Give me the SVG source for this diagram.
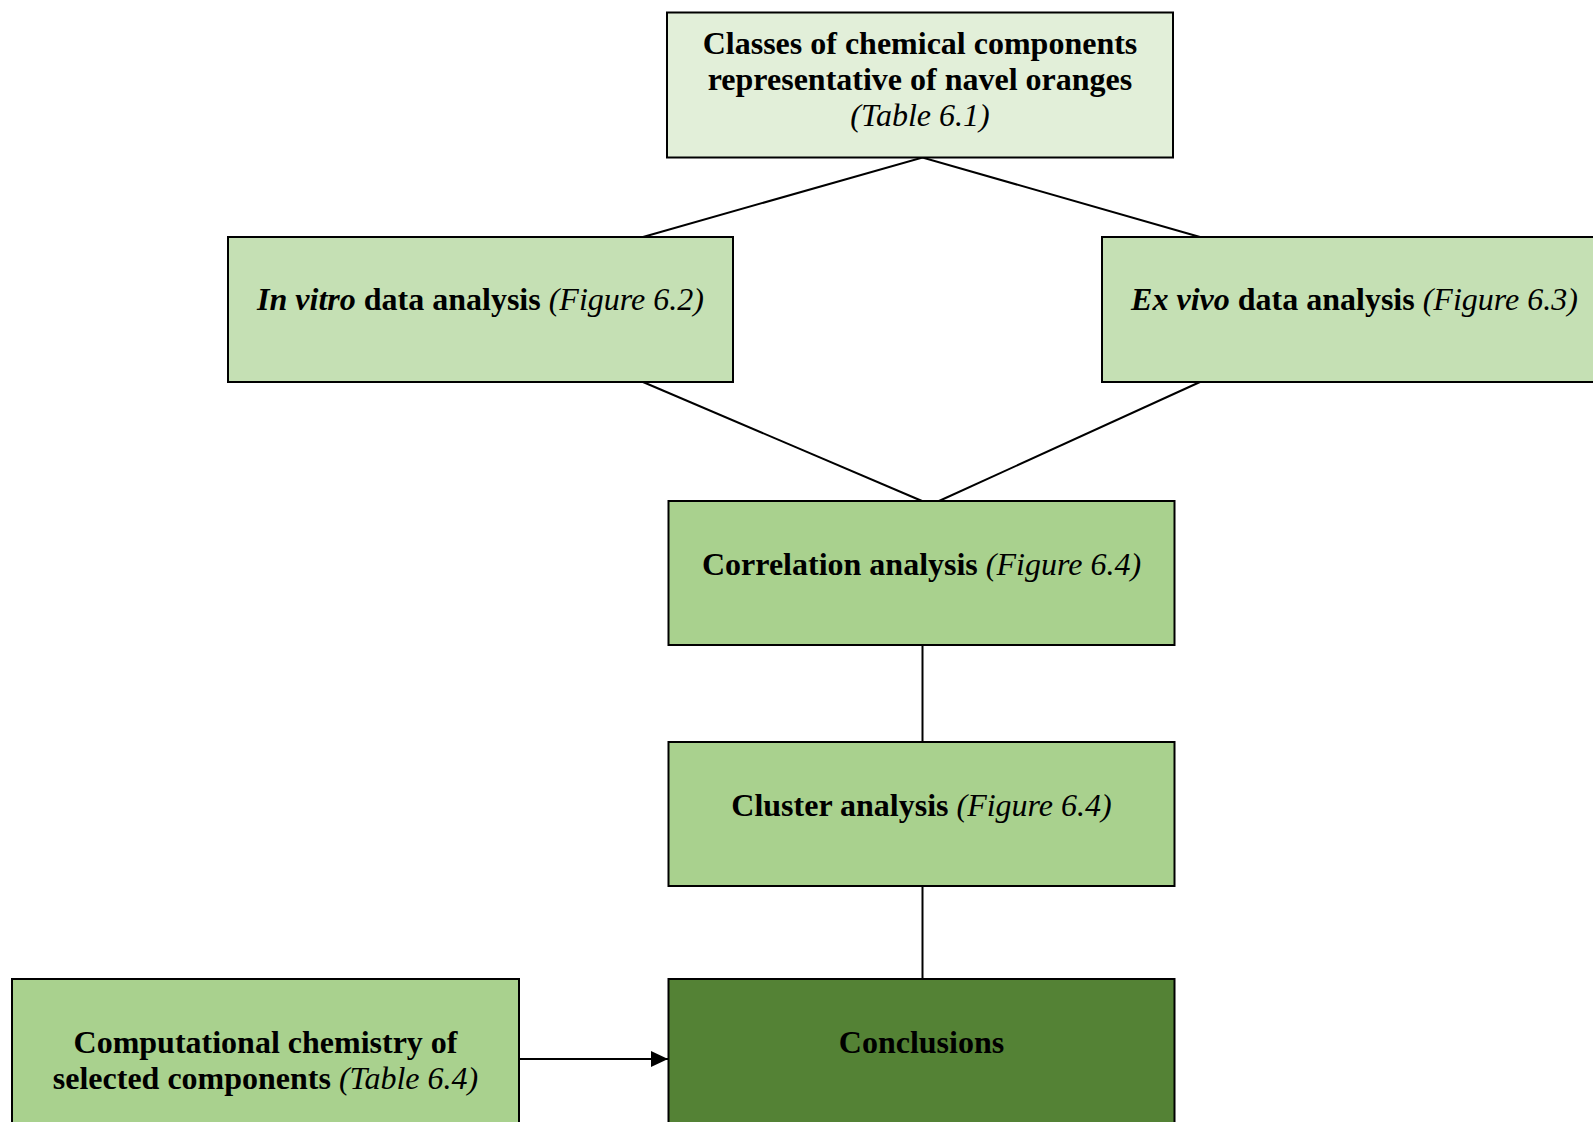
<svg xmlns="http://www.w3.org/2000/svg" width="1593" height="1122" viewBox="0 0 1593 1122">
<style>
.box{stroke:#000;stroke-width:2}
.c1{fill:#E2EFD9}
.c2{fill:#C5E0B4}
.c3{fill:#A9D18E}
.c4{fill:#548235}
text{font-family:"Liberation Serif","Times New Roman",serif;font-size:32px;font-weight:bold;fill:#000;text-anchor:middle}
.it{font-style:italic;font-weight:normal}
.bi{font-style:italic;font-weight:bold}
.conn{stroke:#000;stroke-width:2;fill:none}
</style>
<defs>
<marker id="arr" markerWidth="17" markerHeight="16" refX="17" refY="8" orient="auto" markerUnits="userSpaceOnUse">
<path d="M0,0 L17,8 L0,16 Z" fill="#000"/>
</marker>
</defs>
<rect width="1593" height="1122" fill="#fff"/>
<g id="connectors">
<polyline class="conn" points="643,237 922.5,157.5 1200,237"/>
<line class="conn" x1="643" y1="382" x2="922" y2="501"/>
<line class="conn" x1="1200" y1="382" x2="939" y2="501"/>
<line class="conn" x1="922.5" y1="645" x2="922.5" y2="742"/>
<line class="conn" x1="922.5" y1="886" x2="922.5" y2="979"/>
<line class="conn" x1="519" y1="1059" x2="668" y2="1059" marker-end="url(#arr)"/>
</g>
<g id="node-classes">
<rect class="box c1" x="667" y="12.5" width="506" height="145"/>
<text x="920" y="54">Classes of chemical components</text>
<text x="920" y="90">representative of navel oranges</text>
<text x="920" y="126" class="it">(Table 6.1)</text>
</g>
<g id="node-invitro">
<rect class="box c2" x="228" y="237" width="505" height="145"/>
<text x="480.5" y="310"><tspan class="bi">In vitro</tspan> data analysis <tspan class="it">(Figure 6.2)</tspan></text>
</g>
<g id="node-exvivo">
<rect class="box c2" x="1102" y="237" width="505" height="145"/>
<text x="1354.5" y="310"><tspan class="bi">Ex vivo</tspan> data analysis <tspan class="it">(Figure 6.3)</tspan></text>
</g>
<g id="node-correlation">
<rect class="box c3" x="668.5" y="501" width="506" height="144"/>
<text x="921.5" y="575">Correlation analysis <tspan class="it">(Figure 6.4)</tspan></text>
</g>
<g id="node-cluster">
<rect class="box c3" x="668.5" y="742" width="506" height="144"/>
<text x="921.5" y="816">Cluster analysis <tspan class="it">(Figure 6.4)</tspan></text>
</g>
<g id="node-computational">
<rect class="box c3" x="12" y="979" width="507" height="150"/>
<text x="265.5" y="1053">Computational chemistry of</text>
<text x="265.5" y="1089">selected components <tspan class="it">(Table 6.4)</tspan></text>
</g>
<g id="node-conclusions">
<rect class="box c4" x="668.5" y="979" width="506" height="150"/>
<text x="921.5" y="1053">Conclusions</text>
</g>
</svg>
